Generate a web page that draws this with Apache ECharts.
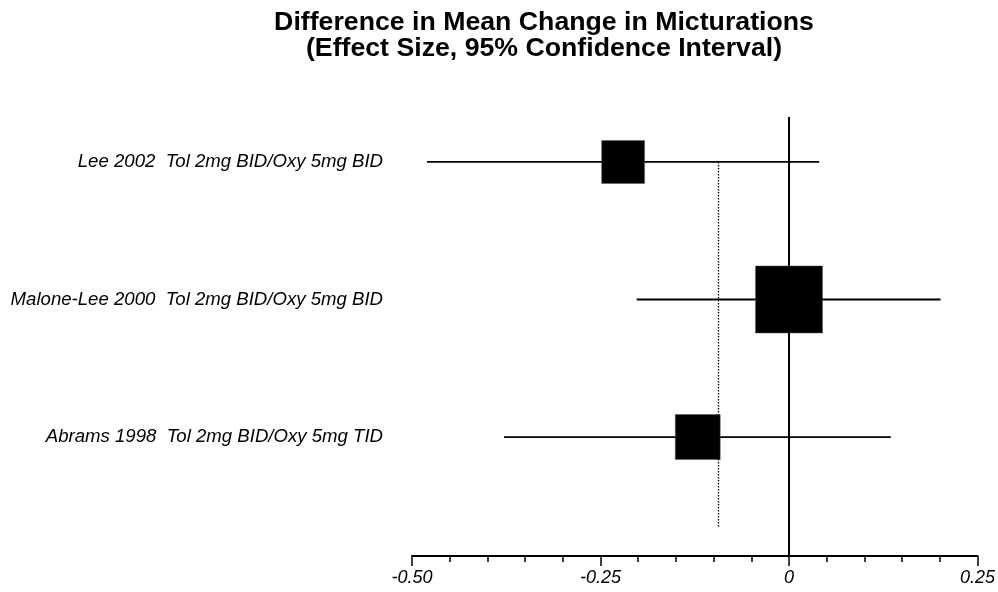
<!DOCTYPE html>
<html><head><meta charset="utf-8">
<script src="https://cdn.jsdelivr.net/npm/echarts@6/dist/echarts.min.js"></script>
<style>html,body{margin:0;padding:0;background:#fff}#c{width:998px;height:592px}</style>
</head><body><div id="c"></div>
<script>
const studies = ['Lee 2002  Tol 2mg BID/Oxy 5mg BID', 'Malone-Lee 2000  Tol 2mg BID/Oxy 5mg BID', 'Abrams 1998  Tol 2mg BID/Oxy 5mg TID'];
const effect = [-0.220, 0.000, -0.121];
const lower = [-0.480, -0.202, -0.378];
const upper = [0.040, 0.201, 0.135];
const weights = [0.64, 1.00, 0.67];
const pooled = -0.094;
const xMin = -0.5, xMax = 0.25, xStep = 0.25;

const FONT = '"Liberation Sans", Arial, sans-serif';
const chart = echarts.init(document.getElementById('c'), null, {renderer: 'canvas'});
const data = studies.map((s, i) => [i, lower[i], upper[i], effect[i], weights[i]]);

chart.setOption({
  animation: false,
  backgroundColor: '#fff',
  title: {
    text: 'Difference in Mean Change in Micturations\n(Effect Size, 95% Confidence Interval)',
    left: 539, top: 4, textAlign: 'center',
    textStyle: {fontFamily: FONT, fontWeight: 'bold', fontSize: 26.7, lineHeight: 26.5, color: '#000'}
  },
  grid: {left: 412, right: 20, top: 117, bottom: 36},
  xAxis: {
    type: 'value', min: xMin, max: xMax, interval: xStep,
    splitLine: {show: false},
    axisLine: {show: true, onZero: false, lineStyle: {color: '#000', width: 2}},
    axisTick: {show: true, length: 10, lineStyle: {color: '#000', width: 1.5}},
    minorTick: {show: true, splitNumber: 5, length: 6, lineStyle: {color: '#000', width: 1.5}},
    minorSplitLine: {show: false},
    axisLabel: {
      margin: 13, fontFamily: FONT, fontStyle: 'italic', fontSize: 18, color: '#000',
      formatter: v => (Math.abs(v) < 1e-9 ? '0' : v.toFixed(2))
    }
  },
  yAxis: {
    type: 'value', inverse: true, min: -0.327, max: 2.865,
    axisLine: {show: false}, axisTick: {show: false}, splitLine: {show: false},
    axisLabel: {
      show: true, customValues: [0, 1, 2], margin: 29,
      fontFamily: FONT, fontStyle: 'italic', fontSize: 18.6, color: '#000',
      formatter: v => studies[Math.round(v)] || ''
    }
  },
  series: [{
    type: 'custom',
    data: data,
    encode: {x: [1, 2, 3], y: 0},
    renderItem: function (params, api) {
      const i = api.value(0);
      const lo = api.coord([api.value(1), i]);
      const hi = api.coord([api.value(2), i]);
      const c = api.coord([api.value(3), i]);
      const s = api.value(4) * 67;
      return {type: 'group', children: [
        {type: 'line', shape: {x1: lo[0], y1: lo[1], x2: hi[0], y2: hi[1]}, style: {stroke: '#000', lineWidth: 1.8}},
        {type: 'rect', shape: {x: c[0] - s / 2, y: c[1] - s / 2, width: s, height: s}, style: {fill: '#000', stroke: '#555', lineWidth: 0.5}}
      ]};
    },
    markLine: {
      silent: true, symbol: 'none', label: {show: false},
      data: [
        {xAxis: 0, lineStyle: {color: '#000', width: 2, type: 'solid'}},
        [{coord: [pooled, 0], lineStyle: {color: '#000', width: 1.3, type: [1.5, 1.5]}}, {coord: [pooled, 2.662]}]
      ]
    }
  }]
});
</script>
</body></html>
